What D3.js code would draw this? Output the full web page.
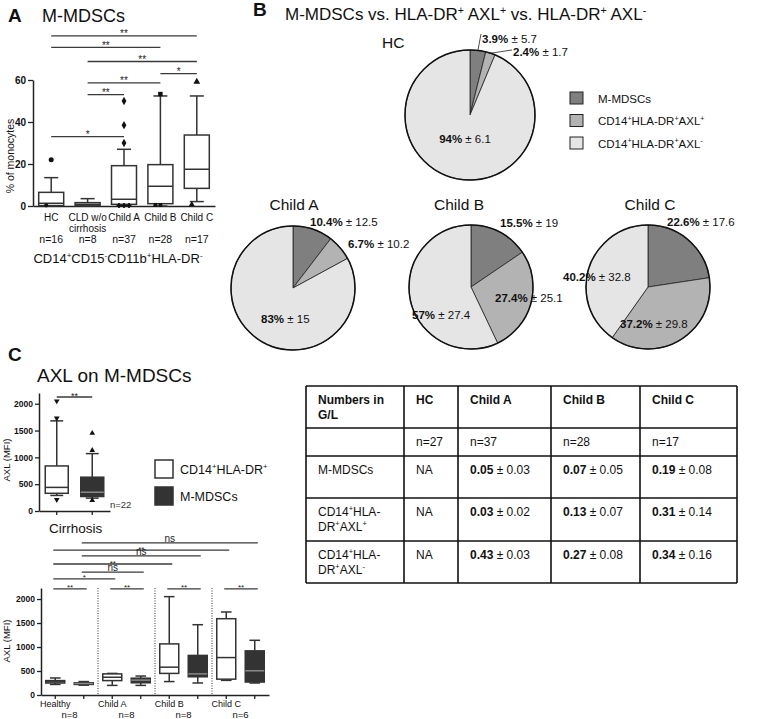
<!DOCTYPE html>
<meta charset="utf-8">
<head>
<style>
  body { margin: 0; background: #fff; }
  svg { font-family: "Liberation Sans", Arial, sans-serif; }
</style>
</head>
<body>
<script src="https://d3js.org/d3.v7.min.js"></script>
<script>
// ---------- panel A data
var aGroups = ["HC", "CLD w/o|cirrhosis", "Child A", "Child B", "Child C"];
var aN = ["n=16", "n=8", "n=37", "n=28", "n=17"];
// [min, q1, median, q3, max]
var aBoxes = [
  [0, 0.2, 1.3, 6.5, 13.5],
  [0, 0.1, 0.8, 1.6, 3.5],
  [0, 0.8, 3.2, 19.2, 27],
  [0, 1.1, 9.4, 19.7, 52.4],
  [2.1, 8.4, 17.5, 33.8, 52.4]
];
var aOutliers = [[22, 0.3], [], [50, 38.5, 30, 0.2, 0.2, 0.2], [53.3, 0.5, 0.5], [59.2, 0.8]];
var aTicks = [0, 20, 40, 60];
// [from, to, label, bracket height (% of monocytes)]
var aSig = [[0, 4, "**", 81], [0, 3, "**", 75.5], [1, 4, "**", 68.8], [3, 4, "*", 63],
            [1, 3, "**", 58.6], [1, 2, "**", 53], [0, 2, "*", 33]];

// ---------- panel B data
var pieGroups = ["HC", "Child A", "Child B", "Child C"];
var pieSeries = ["M-MDSCs", "CD14^+HLA-DR^+AXL^+", "CD14^+HLA-DR^+AXL^-"];
var pieMean = [[3.9, 2.4, 94], [10.4, 6.7, 83], [15.5, 27.4, 57], [22.6, 37.2, 40.2]];
var pieSd = [[5.7, 1.7, 6.1], [12.5, 10.2, 15], [19, 25.1, 27.4], [17.6, 29.8, 32.8]];

// ---------- panel C data
var cTopGroups = ["CD14^+HLA-DR^+", "M-MDSCs"];
var cTopBoxes = [[290, 330, 440, 840, 1680], [240, 270, 350, 630, 1070]];
var cTopOutliers = [[2050, 1730, 210], [1450, 1130, 200]];
var cTicks = [0, 500, 1000, 1500, 2000];
var cGroups = ["Healthy", "Child A", "Child B", "Child C"];
var cN = ["n=8", "n=8", "n=8", "n=6"];
var cWhite = [[220, 250, 275, 300, 355], [200, 300, 370, 440, 450], [280, 450, 580, 1065, 2050], [305, 330, 780, 1590, 1730]];
var cDark = [[205, 220, 240, 255, 280], [200, 255, 310, 350, 395], [250, 380, 440, 825, 1465], [250, 270, 505, 920, 1140]];
// box slots 0..7 (white, dark per group); [from, to, label, bracket height (MFI)]
var cSig = [[1, 7, "ns", 3170], [0, 6, "**", 3020], [1, 5, "ns", 2900], [0, 4, "**", 2730],
            [1, 3, "ns", 2560], [0, 2, "*", 2420], [0, 1, "**", 2210], [2, 3, "**", 2210],
            [4, 5, "**", 2210], [6, 7, "**", 2210]];

// ---------- table data
var tableHead = ["Numbers in|G/L", "HC", "Child A", "Child B", "Child C"];
var tableN = ["", "n=27", "n=37", "n=28", "n=17"];
var tableRows = ["M-MDSCs", "CD14^+HLA-|DR^+AXL^+", "CD14^+HLA-|DR^+AXL^-"];
var tableMean = [[null, 0.05, 0.07, 0.19], [null, 0.03, 0.13, 0.31], [null, 0.43, 0.27, 0.34]];
var tableSd = [[null, 0.03, 0.05, 0.08], [null, 0.02, 0.07, 0.14], [null, 0.03, 0.08, 0.16]];

var pieColors = ["#7f7f7f", "#b3b3b3", "#e5e5e5"];

var svg = d3.select("body").append("svg")
  .attr("width", 763).attr("height", 719);

// text with "^x" superscripts
function rich(t, str, size) {
  var raised = false;
  str.split(/(\^.)/).forEach(function (p) {
    if (!p) return;
    var sup = p[0] === "^";
    var s = t.append("tspan").text(sup ? p.slice(1) : p);
    if (sup) {
      s.attr("font-size", size * 0.62);
      if (!raised) { s.attr("dy", -size * 0.38); raised = true; }
    } else if (raised) {
      s.attr("dy", size * 0.38); raised = false;
    }
  });
  return t;
}

function label(x, y, str, size, opts) {
  opts = opts || {};
  var t = svg.append("text").attr("x", x).attr("y", y)
    .attr("font-size", size)
    .attr("text-anchor", opts.anchor || "start")
    .attr("font-weight", opts.bold ? "bold" : null)
    .attr("fill", opts.fill || "#111");
  return rich(t, str, size);
}

function drawBox(g, x, w, s, y, fill, stroke) {
  var cap = w * 0.28;
  g.append("line").attr("x1", x).attr("x2", x).attr("y1", y(s[0])).attr("y2", y(s[1]));
  g.append("line").attr("x1", x).attr("x2", x).attr("y1", y(s[3])).attr("y2", y(s[4]));
  g.append("line").attr("x1", x - cap).attr("x2", x + cap).attr("y1", y(s[0])).attr("y2", y(s[0]));
  g.append("line").attr("x1", x - cap).attr("x2", x + cap).attr("y1", y(s[4])).attr("y2", y(s[4]));
  g.append("rect").attr("x", x - w / 2).attr("y", y(s[3]))
    .attr("width", w).attr("height", Math.max(1, y(s[1]) - y(s[3])))
    .attr("fill", fill);
  g.append("line").attr("x1", x - w / 2).attr("x2", x + w / 2)
    .attr("y1", y(s[2])).attr("y2", y(s[2]))
    .attr("stroke", fill === "#fff" ? stroke : "#888");
  g.selectAll("line,rect").attr("stroke", function () {
    return d3.select(this).attr("stroke") || stroke;
  }).attr("stroke-width", 1.5);
}

function styleAxis(g, size) {
  g.select(".domain").attr("stroke", "#222").attr("stroke-width", 1.5);
  g.selectAll(".tick line").attr("stroke", "#222").attr("stroke-width", 1.3);
  g.selectAll(".tick text").attr("font-size", size).attr("font-weight", "bold")
    .attr("fill", "#111").attr("font-family", "Liberation Sans, Arial, sans-serif");
}

function bracket(x1, x2, y, text, size) {
  svg.append("line").attr("x1", x1).attr("x2", x2).attr("y1", y).attr("y2", y)
    .attr("stroke", "#3a3a3a").attr("stroke-width", 1.3);
  svg.append("text").attr("x", (x1 + x2) / 2).attr("y", y - (text === "ns" ? 1 : -1.5))
    .attr("text-anchor", "middle").attr("font-size", size).attr("fill", "#222")
    .text(text);
}

// ======================= PANEL A =======================
label(8, 22, "A", 19, { bold: true });
label(42, 22, "M-MDSCs", 18);

var yA = d3.scaleLinear().domain([0, 60]).range([206, 80]);
var xA = d3.scaleBand().domain(d3.range(aGroups.length)).range([33, 215]);
var cxA = function (i) { return xA(i) + xA.bandwidth() / 2; };

var gAy = svg.append("g").attr("transform", "translate(33,0)")
  .call(d3.axisLeft(yA).tickValues(aTicks).tickSize(5).tickPadding(2).tickSizeOuter(0));
styleAxis(gAy, 10);
var gAx = svg.append("g").attr("transform", "translate(0,206)")
  .call(d3.axisBottom(xA).tickSize(0).tickFormat(""));
styleAxis(gAx, 10);

svg.append("text").attr("transform", "translate(14,156) rotate(-90)")
  .attr("text-anchor", "middle").attr("font-size", 10.5).attr("fill", "#111")
  .text("% of monocytes");

var symA = [d3.symbolCircle, d3.symbolSquare, d3.symbolDiamond, d3.symbolSquare, d3.symbolTriangle];
aBoxes.forEach(function (s, i) {
  var g = svg.append("g");
  drawBox(g, cxA(i), 25, s, yA, "#fff", "#333");
  var seen = {};
  aOutliers[i].forEach(function (v) {
    seen[v] = (seen[v] || 0) + 1;
    var k = seen[v] - 1;
    var dx = v < 2 ? (k - 1) * 5 : 0;
    svg.append("path")
      .attr("d", d3.symbol().type(v < 2 && i === 2 ? d3.symbolCross : symA[i]).size(v < 2 ? 14 : 20)())
      .attr("transform", "translate(" + (cxA(i) + dx) + "," + yA(v) + ")")
      .attr("fill", "#111");
  });
});

aGroups.forEach(function (g, i) {
  var lines = g.split("|");
  var t = svg.append("text").attr("x", cxA(i)).attr("y", 221)
    .attr("text-anchor", "middle").attr("font-size", 10).attr("fill", "#111");
  lines.forEach(function (l, j) {
    t.append("tspan").attr("x", cxA(i)).attr("dy", j ? 11 : 0).text(l);
  });
  svg.append("text").attr("x", cxA(i)).attr("y", 243)
    .attr("text-anchor", "middle").attr("font-size", 10.5).attr("fill", "#111")
    .text(aN[i]);
});
label(118, 263, "CD14^+CD15^-CD11b^+HLA-DR^-", 13, { anchor: "middle" });

aSig.forEach(function (s) {
  bracket(cxA(s[0]), cxA(s[1]), yA(s[3]), s[2], 10);
});

// ======================= PANEL B =======================
label(253, 16, "B", 19, { bold: true });
label(285, 20, "M-MDSCs vs. HLA-DR^+ AXL^+ vs. HLA-DR^+ AXL^-", 17);

// layout: centre x, centre y, radius, title x, title y, title anchor
var pieLayout = [
  [470, 115, 65, 382, 48, "start"],
  [293, 288, 62, 294, 210, "middle"],
  [471, 287, 62, 459, 210, "middle"],
  [648, 287, 62, 650, 210, "middle"]
];
// label offsets from pie centre: dx, dy, anchor
var pieLabelPos = [
  [[12, -72, "start"], [43, -59, "start"], [-5, 28, "middle"]],
  [[17, -62, "start"], [55, -40, "start"], [-32, 35, "start"]],
  [[29, -60, "start"], [24, 15, "start"], [-59, 32, "start"]],
  [[19, -61, "start"], [-28, 41, "start"], [-85, -6, "start"]]
];

var pie = d3.pie().sort(null).value(function (d) { return d; });
pieGroups.forEach(function (name, p) {
  var L = pieLayout[p];
  var arc = d3.arc().innerRadius(0).outerRadius(L[2]);
  var g = svg.append("g").attr("transform", "translate(" + L[0] + "," + L[1] + ")");
  var arcs = pie(pieMean[p]);
  g.selectAll("path").data(arcs).enter().append("path")
    .attr("d", arc)
    .attr("fill", function (d, i) { return pieColors[i]; })
    .attr("stroke", "#222").attr("stroke-width", 0.8);
  g.append("circle").attr("r", L[2]).attr("fill", "none")
    .attr("stroke", "#111").attr("stroke-width", 1.5);

  svg.append("text").attr("x", L[3]).attr("y", L[4]).attr("text-anchor", L[5])
    .attr("font-size", 15.5).attr("fill", "#111").text(name);

  arcs.forEach(function (a, i) {
    var pos = pieLabelPos[p][i];
    var lx = L[0] + pos[0], ly = L[1] + pos[1];
    var t = svg.append("text").attr("x", lx).attr("y", ly)
      .attr("text-anchor", pos[2]).attr("font-size", 11.5).attr("fill", "#111");
    t.append("tspan").attr("font-weight", "bold").text(pieMean[p][i] + "%");
    t.append("tspan").text(" \u00b1 " + pieSd[p][i]);
    // leader lines for the thin slices of HC
    if (p === 0 && i < 2) {
      var m = (a.startAngle + a.endAngle) / 2;
      var ex = L[0] + Math.sin(m) * L[2], ey = L[1] - Math.cos(m) * L[2];
      svg.append("line").attr("x1", ex).attr("y1", ey)
        .attr("x2", lx - 1).attr("y2", ly - (i === 0 ? 9 : 6))
        .attr("stroke", "#222").attr("stroke-width", 0.8);
    }
  });
});

// legend B
pieSeries.forEach(function (s, i) {
  var y = 92 + i * 22.5;
  svg.append("rect").attr("x", 570).attr("y", y).attr("width", 13).attr("height", 12)
    .attr("fill", pieColors[i]).attr("stroke", "#222").attr("stroke-width", 1);
  label(598, y + 10.5, s, 11.5);
});

// ======================= PANEL C =======================
label(8, 361, "C", 19, { bold: true });
label(37, 382, "AXL on M-MDSCs", 19);

// top inset
var yCt = d3.scaleLinear().domain([0, 2200]).range([511, 393]);
var xCt = d3.scaleBand().domain(d3.range(2)).range([39, 110]);
var cxCt = function (i) { return xCt(i) + xCt.bandwidth() / 2; };
var gCty = svg.append("g").attr("transform", "translate(39,0)")
  .call(d3.axisLeft(yCt).tickValues(cTicks).tickFormat(d3.format("d")).tickSize(4).tickPadding(2).tickSizeOuter(0));
styleAxis(gCty, 8.5);
var gCtx = svg.append("g").attr("transform", "translate(0,511)")
  .call(d3.axisBottom(xCt).tickSize(4).tickFormat("").tickSizeOuter(0));
styleAxis(gCtx, 8.5);
svg.append("text").attr("transform", "translate(10,460) rotate(-90)")
  .attr("text-anchor", "middle").attr("font-size", 9.5).attr("fill", "#111").text("AXL (MFI)");

var fills = ["#fff", "#333"];
cTopBoxes.forEach(function (s, i) {
  drawBox(svg.append("g"), cxCt(i), 23, s, yCt, fills[i], "#333");
  cTopOutliers[i].forEach(function (v) {
    svg.append("path")
      .attr("d", d3.symbol().type(d3.symbolTriangle).size(14)())
      .attr("transform", "translate(" + cxCt(i) + "," + yCt(v) + ")" + (i === 0 ? " rotate(180)" : ""))
      .attr("fill", "#111");
  });
});
bracket(cxCt(0), cxCt(1), 397, "**", 9);
svg.append("text").attr("x", 110).attr("y", 508).attr("font-size", 9.5)
  .attr("fill", "#333").text("n=22");

// legend C
cTopGroups.forEach(function (s, i) {
  var y = 460 + i * 27;
  svg.append("rect").attr("x", 155).attr("y", y).attr("width", 18).attr("height", 18)
    .attr("fill", fills[i]).attr("stroke", "#333").attr("stroke-width", 1.5);
  label(180, y + 14, s, 12.5);
});

// bottom chart
label(49, 533, "Cirrhosis", 13.5);
var yCb = d3.scaleLinear().domain([0, 2230]).range([695, 588]);
var xCb = d3.scaleBand().domain(d3.range(8)).range([41, 269]);
var cxCb = function (i) { return xCb(i) + xCb.bandwidth() / 2; };
var gCby = svg.append("g").attr("transform", "translate(41,0)")
  .call(d3.axisLeft(yCb).tickValues(cTicks).tickFormat(d3.format("d")).tickSize(4).tickPadding(2).tickSizeOuter(0));
styleAxis(gCby, 8.5);
var gCbx = svg.append("g").attr("transform", "translate(0,695)")
  .call(d3.axisBottom(xCb).tickSize(4).tickFormat("").tickSizeOuter(0));
styleAxis(gCbx, 8.5);
svg.append("text").attr("transform", "translate(10,641) rotate(-90)")
  .attr("text-anchor", "middle").attr("font-size", 9.5).attr("fill", "#111").text("AXL (MFI)");

[2, 4, 6].forEach(function (k) {
  svg.append("line").attr("x1", xCb(k)).attr("x2", xCb(k))
    .attr("y1", yCb(2230)).attr("y2", yCb(0))
    .attr("stroke", "#333").attr("stroke-width", 1).attr("stroke-dasharray", "1,1.5");
});

cGroups.forEach(function (name, i) {
  drawBox(svg.append("g"), cxCb(2 * i), 19, cWhite[i], yCb, "#fff", "#333");
  drawBox(svg.append("g"), cxCb(2 * i + 1), 19, cDark[i], yCb, "#333", "#333");
  svg.append("text").attr("x", cxCb(2 * i)).attr("y", 707).attr("text-anchor", "middle")
    .attr("font-size", 9).attr("fill", "#111").text(name);
  svg.append("text").attr("x", (cxCb(2 * i) + cxCb(2 * i + 1)) / 2).attr("y", 718)
    .attr("text-anchor", "middle").attr("font-size", 9.5).attr("fill", "#111").text(cN[i]);
});

cSig.forEach(function (s) {
  bracket(cxCb(s[0]) - 2, cxCb(s[1]) + 3, yCb(s[3]), s[2], s[2] === "ns" ? 10 : 8);
});

// ======================= TABLE =======================
var colX = [306, 404, 458, 551, 640, 737];
var rowY = [386, 428, 456, 498, 541, 583];
var tg = svg.append("g");
colX.forEach(function (x) {
  tg.append("line").attr("x1", x).attr("x2", x).attr("y1", rowY[0]).attr("y2", rowY[rowY.length - 1]);
});
rowY.forEach(function (y) {
  tg.append("line").attr("x1", colX[0]).attr("x2", colX[colX.length - 1]).attr("y1", y).attr("y2", y);
});
tg.selectAll("line").attr("stroke", "#111").attr("stroke-width", 1.6);

function cellText(c, r, str, bold) {
  str.split("|").forEach(function (l, j) {
    label(colX[c] + 12, rowY[r] + 18 + j * 15, l, 12, { bold: bold });
  });
}
tableHead.forEach(function (h, c) { cellText(c, 0, h, true); });
tableN.forEach(function (n, c) { if (n) cellText(c, 1, n, false); });
tableRows.forEach(function (rname, r) {
  cellText(0, r + 2, rname, false);
  tableMean[r].forEach(function (v, c) {
    var x = colX[c + 1] + 12, y = rowY[r + 2] + 18;
    var t = svg.append("text").attr("x", x).attr("y", y).attr("font-size", 12).attr("fill", "#111");
    if (v === null) { t.text("NA"); return; }
    t.append("tspan").attr("font-weight", "bold").text(v.toFixed(2));
    t.append("tspan").text(" \u00b1 " + tableSd[r][c].toFixed(2));
  });
});
</script>
</body>
</html>
